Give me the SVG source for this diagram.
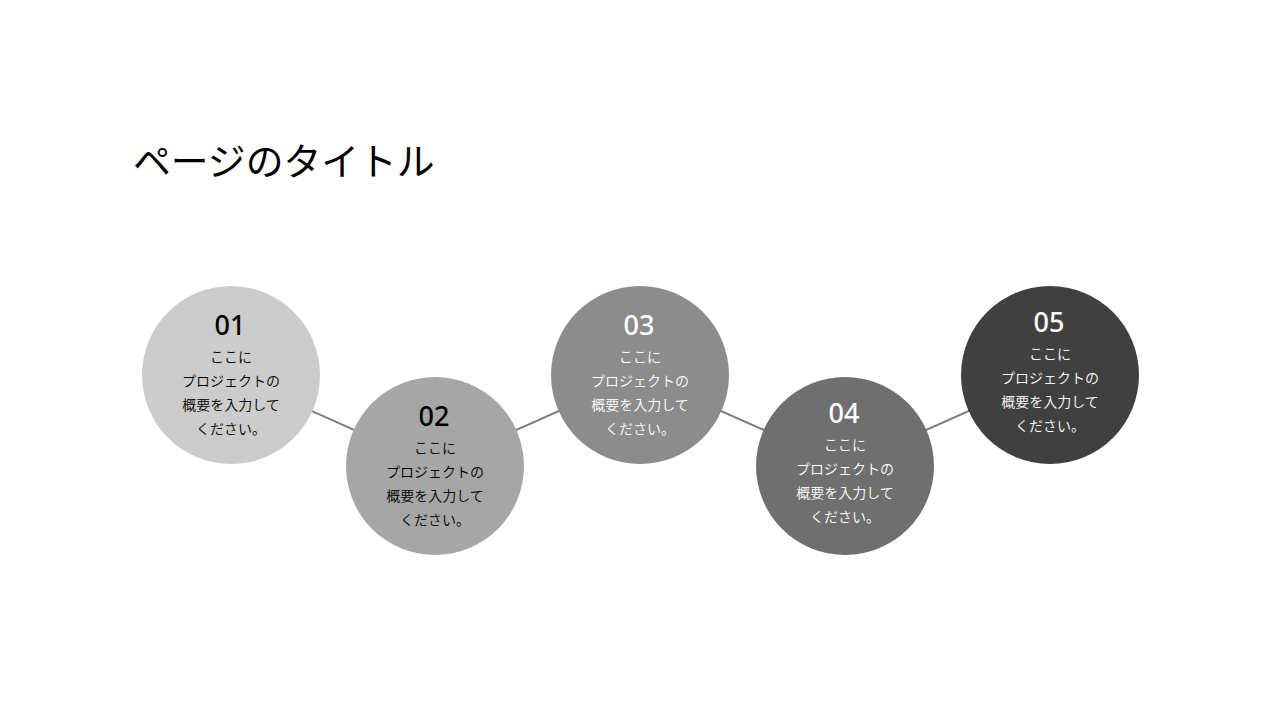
<svg xmlns="http://www.w3.org/2000/svg" width="1280" height="720" viewBox="0 0 1280 720">
<style>
.t{font-family:"Noto Sans CJK JP","Noto Sans",sans-serif;}
.num{font-family:"Noto Sans","Noto Sans CJK JP",sans-serif;font-size:27px;font-weight:500;text-anchor:middle;}
.body{font-family:"Noto Sans CJK JP",sans-serif;font-size:14px;font-weight:350;text-anchor:middle;}
.dk{fill:#000000;}
.lt{fill:#ffffff;}
.conn{stroke:#7f7f7f;stroke-width:2;fill:none;}
</style>
<rect width="1280" height="720" fill="#ffffff"/>
<text id="title" class="t" x="133" y="175" font-size="37.8" fill="#000000">ページのタイトル</text>
<g id="connectors">
<line class="conn" x1="231" y1="375" x2="435" y2="466"/>
<line class="conn" x1="435" y1="466" x2="640" y2="375"/>
<line class="conn" x1="640" y1="375" x2="845" y2="466"/>
<line class="conn" x1="845" y1="466" x2="1050" y2="375"/>
</g>
<g id="node1">
<circle cx="231" cy="375" r="89" fill="#cccccc"/>
<text class="num dk" x="230" y="335">01</text>
<text class="body dk" x="231" y="362">ここに</text>
<text class="body dk" x="231" y="386">プロジェクトの</text>
<text class="body dk" x="231" y="410">概要を入力して</text>
<text class="body dk" x="231" y="434">ください。</text>
</g>
<g id="node2">
<circle cx="435" cy="466" r="89" fill="#a6a6a6"/>
<text class="num dk" x="434" y="426">02</text>
<text class="body dk" x="435" y="453">ここに</text>
<text class="body dk" x="435" y="477">プロジェクトの</text>
<text class="body dk" x="435" y="501">概要を入力して</text>
<text class="body dk" x="435" y="525">ください。</text>
</g>
<g id="node3">
<circle cx="640" cy="375" r="89" fill="#8c8c8c"/>
<text class="num lt" x="639" y="335">03</text>
<text class="body lt" x="640" y="362">ここに</text>
<text class="body lt" x="640" y="386">プロジェクトの</text>
<text class="body lt" x="640" y="410">概要を入力して</text>
<text class="body lt" x="640" y="434">ください。</text>
</g>
<g id="node4">
<circle cx="845" cy="466" r="89" fill="#6f6f6f"/>
<text class="num lt" x="844" y="423">04</text>
<text class="body lt" x="845" y="450">ここに</text>
<text class="body lt" x="845" y="474">プロジェクトの</text>
<text class="body lt" x="845" y="498">概要を入力して</text>
<text class="body lt" x="845" y="522">ください。</text>
</g>
<g id="node5">
<circle cx="1050" cy="375" r="89" fill="#404040"/>
<text class="num lt" x="1049" y="332">05</text>
<text class="body lt" x="1050" y="359">ここに</text>
<text class="body lt" x="1050" y="383">プロジェクトの</text>
<text class="body lt" x="1050" y="407">概要を入力して</text>
<text class="body lt" x="1050" y="431">ください。</text>
</g>
</svg>
